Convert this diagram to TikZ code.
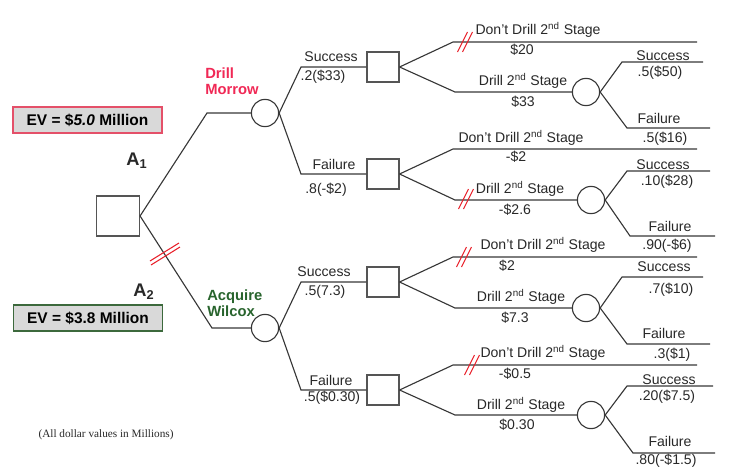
\documentclass[tikz,border=0pt]{standalone}
\usepackage{fontspec}
\setmainfont{Liberation Sans}
\newfontfamily\notefont{Liberation Serif}
\usepackage{xcolor}
\usepackage{tikz}
\definecolor{treegray}{RGB}{55, 55, 55}
\definecolor{boxgray}{RGB}{85, 85, 85}
\definecolor{textgray}{RGB}{40, 40, 40}
\definecolor{evgray}{RGB}{217, 217, 217}
\definecolor{morrowred}{RGB}{240, 40, 85}
\definecolor{evred}{RGB}{228, 80, 105}
\definecolor{wilcoxgreen}{RGB}{40, 100, 45}
\definecolor{evgreen}{RGB}{60, 105, 60}
\definecolor{cutred}{RGB}{232, 30, 40}

\begin{document}
\begin{tikzpicture}[
    x=0.025cm, y=-0.025cm,
    branch/.style={draw=treegray, line width=0.8pt},
    decision/.style={
        rectangle, draw=boxgray, line width=0.8pt, fill=white,
        minimum width=0.8cm, minimum height=0.75cm, inner sep=0pt
    },
    chance/.style={
        circle, draw=treegray, line width=0.8pt, fill=white,
        minimum size=0.68cm, inner sep=0pt
    },
    lbl/.style={font=\fontsize{10}{12}\selectfont, text=textgray, inner sep=0pt},
    altlabel/.style={font=\fontsize{10.5}{11.5}\selectfont\bfseries, align=left, inner sep=0pt, anchor=west},
    evbox/.style={
        rectangle, draw=#1, line width=0.8pt, fill=evgray, text=black,
        minimum width=3.725cm, minimum height=0.65cm, inner sep=0pt,
        font=\fontsize{11}{13}\selectfont\bfseries
    },
    cutline/.style={draw=cutred, line width=0.75pt},
    cutmark/.pic={\draw[cutline] (-7.5,10) -- (2.5,-10) (-2.5,10) -- (7.5,-10);}
]
    \useasboundingbox (0,0) rectangle (742,468);

    % decision and chance nodes
    \node[decision, minimum width=1.075cm, minimum height=1cm] (start) at (118,216) {};
    \node[chance] (morrow) at (265,113) {};
    \node[chance] (wilcox) at (265,328) {};
    \node[decision] (ms) at (383,67) {};
    \node[decision] (mf) at (383,174) {};
    \node[decision] (ws) at (383,282) {};
    \node[decision] (wf) at (383,390) {};
    \node[chance] (msd) at (586,92) {};
    \node[chance] (mfd) at (591,200) {};
    \node[chance] (wsd) at (586,308) {};
    \node[chance] (wfd) at (591,415) {};

    % bends of the branches
    \coordinate (a1k) at (207,113);
    \coordinate (a2k) at (212,328);
    \coordinate (msk) at (301,67);
    \coordinate (mfk) at (301,174);
    \coordinate (wsk) at (301,282);
    \coordinate (wfk) at (301,390);
    \coordinate (mstk) at (453,42);  \coordinate (mste) at (697,42);  \coordinate (msdk) at (455,92);
    \coordinate (mftk) at (453,149); \coordinate (mfte) at (697,149); \coordinate (mfdk) at (455,200);
    \coordinate (wstk) at (453,257); \coordinate (wste) at (697,257); \coordinate (wsdk) at (455,308);
    \coordinate (wftk) at (453,365); \coordinate (wfte) at (697,365); \coordinate (wfdk) at (455,415);

    \draw[branch] (start.east) -- (a1k) -- (morrow.west);
    \draw[branch] (start.east) -- (a2k) -- (wilcox.west);
    \draw[branch] (morrow.east) -- (msk) -- (ms.west);
    \draw[branch] (morrow.east) -- (mfk) -- (mf.west);
    \draw[branch] (wilcox.east) -- (wsk) -- (ws.west);
    \draw[branch] (wilcox.east) -- (wfk) -- (wf.west);
    \draw[branch] (ms.east) -- (mstk) -- (mste);
    \draw[branch] (ms.east) -- (msdk) -- (msd.west);
    \draw[branch] (mf.east) -- (mftk) -- (mfte);
    \draw[branch] (mf.east) -- (mfdk) -- (mfd.west);
    \draw[branch] (ws.east) -- (wstk) -- (wste);
    \draw[branch] (ws.east) -- (wsdk) -- (wsd.west);
    \draw[branch] (wf.east) -- (wftk) -- (wfte);
    \draw[branch] (wf.east) -- (wfdk) -- (wfd.west);

    % last stage: success and failure of the 2nd stage
    \foreach \c/\sy/\sx/\se/\fy/\fx/\fe in {msd/62/622/703/128/627/710, mfd/171/627/710/236/630/715,
                                            wsd/277/622/703/344/627/710, wfd/386/627/713/453/633/715}{
        \coordinate (\c-sk) at (\sx,\sy); \coordinate (\c-se) at (\se,\sy);
        \coordinate (\c-fk) at (\fx,\fy); \coordinate (\c-fe) at (\fe,\fy);
        \draw[branch] (\c.east) -- (\c-sk) -- (\c-se);
        \draw[branch] (\c.east) -- (\c-fk) -- (\c-fe);
    }

    % pruned branches
    \draw[cutline] (150,261) -- (179,243) (151,265) -- (180,247);
    \pic at (465,42) {cutmark};
    \pic at (466,199) {cutmark};
    \pic at (464,257) {cutmark};
    \pic at (472,365) {cutmark};

    % alternatives
    \node[altlabel, text=morrowred] (morrowlbl) at (205,81) {Drill\\Morrow};
    \node[altlabel, text=wilcoxgreen] (wilcoxlbl) at (207,303) {Acquire\\Wilcox};
    \node[font=\fontsize{13}{15}\selectfont\bfseries, text=textgray, inner sep=0pt] (a1) at (137,161) {A\textsubscript{1}};
    \node[font=\fontsize{13}{15}\selectfont\bfseries, text=textgray, inner sep=0pt] (a2) at (144,292) {A\textsubscript{2}};
    \node[evbox=evred] (ev1) at (87.5,120) {EV = \$\textit{5.0} Million};
    \node[evbox=evgreen] (ev2) at (88,318) {EV = \$3.8 Million};
    \node[font=\notefont\fontsize{8}{10}\selectfont, text=textgray, inner sep=0pt] (note) at (106,435) {(All dollar values in Millions)};

    % first stage
    \node[lbl] (mslbl) at (331,57) {Success};
    \node[lbl] (msval) at (323,77) {.2(\$33)};
    \node[lbl] (mflbl) at (334,164) {Failure};
    \node[lbl] (mfval) at (326,190) {.8(-\$2)};
    \node[lbl] (wslbl) at (324,272) {Success};
    \node[lbl] (wsval) at (325,292) {.5(7.3)};
    \node[lbl] (wflbl) at (331,380) {Failure};
    \node[lbl] (wfval) at (332,398) {.5(\$0.30)};

    % second stage
    \node[lbl] (mstlbl) at (538,30) {Don't Drill 2\textsuperscript{nd} Stage};
    \node[lbl] (mstval) at (522,50) {\$20};
    \node[lbl] (msdlbl) at (523,81) {Drill 2\textsuperscript{nd} Stage};
    \node[lbl] (msdval) at (523,102) {\$33};
    \node[lbl] (mftlbl) at (521,138) {Don't Drill 2\textsuperscript{nd} Stage};
    \node[lbl] (mftval) at (516,157) {-\$2};
    \node[lbl] (mfdlbl) at (520,189) {Drill 2\textsuperscript{nd} Stage};
    \node[lbl] (mfdval) at (515,210) {-\$2.6};
    \node[lbl] (wstlbl) at (543,245) {Don't Drill 2\textsuperscript{nd} Stage};
    \node[lbl] (wstval) at (507,266) {\$2};
    \node[lbl] (wsdlbl) at (521,297) {Drill 2\textsuperscript{nd} Stage};
    \node[lbl] (wsdval) at (515,318) {\$7.3};
    \node[lbl] (wftlbl) at (543,353) {Don't Drill 2\textsuperscript{nd} Stage};
    \node[lbl] (wftval) at (515,374) {-\$0.5};
    \node[lbl] (wfdlbl) at (521,405) {Drill 2\textsuperscript{nd} Stage};
    \node[lbl] (wfdval) at (517,425) {\$0.30};

    % third stage
    \node[lbl] (msdslbl) at (663,56) {Success};
    \node[lbl] (msdsval) at (660,73) {.5(\$50)};
    \node[lbl] (msdflbl) at (659,118) {Failure};
    \node[lbl] (msdfval) at (665,139) {.5(\$16)};
    \node[lbl] (mfdslbl) at (663,165) {Success};
    \node[lbl] (mfdsval) at (667,182) {.10(\$28)};
    \node[lbl] (mfdflbl) at (670,226) {Failure};
    \node[lbl] (mfdfval) at (667,246) {.90(-\$6)};
    \node[lbl] (wsdslbl) at (664,267) {Success};
    \node[lbl] (wsdsval) at (671,290) {.7(\$10)};
    \node[lbl] (wsdflbl) at (664,333) {Failure};
    \node[lbl] (wsdfval) at (672,355) {.3(\$1)};
    \node[lbl] (wfdslbl) at (669,380) {Success};
    \node[lbl] (wfdsval) at (667,397) {.20(\$7.5)};
    \node[lbl] (wfdflbl) at (670,441) {Failure};
    \node[lbl] (wfdfval) at (666,461) {.80(-\$1.5)};
\end{tikzpicture}
\end{document}
